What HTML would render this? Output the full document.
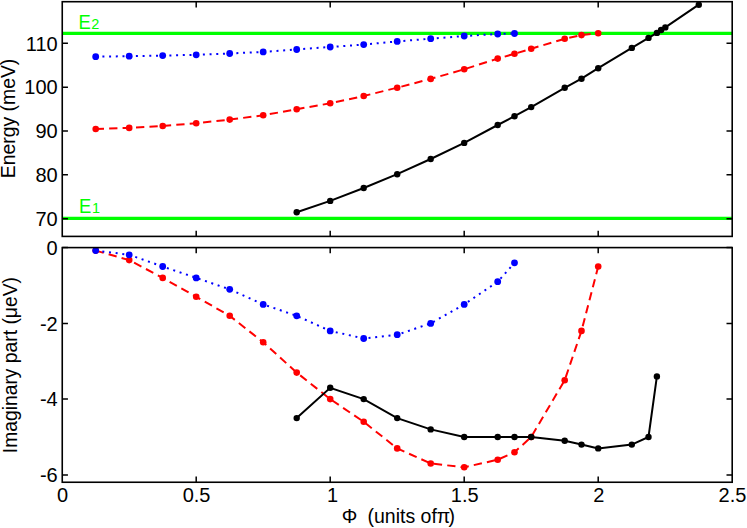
<!DOCTYPE html>
<html><head><meta charset="utf-8"><title>chart</title>
<style>html,body{margin:0;padding:0;background:#fff}svg{display:block}text{font-family:"Liberation Sans",sans-serif;font-size:20px;fill:none;stroke:none}</style></head><body>
<svg width="747" height="528" viewBox="0 0 747 528">
<rect width="747" height="528" fill="#fff"/>
<g>
<line x1="62.25" x2="732.2" y1="33.4" y2="33.4" stroke="#00ff00" stroke-width="3.3"/>
<line x1="62.25" x2="732.2" y1="218.4" y2="218.4" stroke="#00ff00" stroke-width="3.3"/>
<text x="78.43" y="28.8" textLength="12.3" lengthAdjust="spacingAndGlyphs" style="fill:#00ff00;font-size:20.5px">E</text>
<text x="91.24" y="28.8" style="fill:#00ff00;font-size:14.5px">2</text>
<text x="79.04" y="212.8" textLength="12.3" lengthAdjust="spacingAndGlyphs" style="fill:#00ff00;font-size:20.4px">E</text>
<text x="92.0" y="212.8" style="fill:#00ff00;font-size:14.5px">1</text>
<polyline points="95.7,129.0 129.2,127.9 162.7,126.0 196.2,123.2 229.7,119.6 263.2,115.3 296.7,109.2 330.2,103.3 363.7,96.0 397.2,87.7 430.7,78.9 464.2,69.3 497.7,58.6 514.5,53.8 531.2,48.7 564.7,38.8 581.5,35.1 598.2,33.2" fill="none" stroke="#ff0000" stroke-width="2" stroke-dasharray="8.3 5.15"/>
<circle cx="95.7" cy="129.0" r="3.3" fill="#ff0000"/>
<circle cx="129.2" cy="127.9" r="3.3" fill="#ff0000"/>
<circle cx="162.7" cy="126.0" r="3.3" fill="#ff0000"/>
<circle cx="196.2" cy="123.2" r="3.3" fill="#ff0000"/>
<circle cx="229.7" cy="119.6" r="3.3" fill="#ff0000"/>
<circle cx="263.2" cy="115.3" r="3.3" fill="#ff0000"/>
<circle cx="296.7" cy="109.2" r="3.3" fill="#ff0000"/>
<circle cx="330.2" cy="103.3" r="3.3" fill="#ff0000"/>
<circle cx="363.7" cy="96.0" r="3.3" fill="#ff0000"/>
<circle cx="397.2" cy="87.7" r="3.3" fill="#ff0000"/>
<circle cx="430.7" cy="78.9" r="3.3" fill="#ff0000"/>
<circle cx="464.2" cy="69.3" r="3.3" fill="#ff0000"/>
<circle cx="497.7" cy="58.6" r="3.3" fill="#ff0000"/>
<circle cx="514.5" cy="53.8" r="3.3" fill="#ff0000"/>
<circle cx="531.2" cy="48.7" r="3.3" fill="#ff0000"/>
<circle cx="564.7" cy="38.8" r="3.3" fill="#ff0000"/>
<circle cx="581.5" cy="35.1" r="3.3" fill="#ff0000"/>
<circle cx="598.2" cy="33.2" r="3.3" fill="#ff0000"/>
<polyline points="95.7,56.7 129.2,56.2 162.7,55.6 196.2,54.8 229.7,53.5 263.2,51.9 296.7,49.5 330.2,47.0 363.7,44.6 397.2,41.4 430.7,38.7 464.2,36.0 497.7,34.0 514.5,33.5" fill="none" stroke="#0000ff" stroke-width="2" stroke-dasharray="2 4.7"/>
<circle cx="95.7" cy="56.7" r="3.4" fill="#0000ff"/>
<circle cx="129.2" cy="56.2" r="3.4" fill="#0000ff"/>
<circle cx="162.7" cy="55.6" r="3.4" fill="#0000ff"/>
<circle cx="196.2" cy="54.8" r="3.4" fill="#0000ff"/>
<circle cx="229.7" cy="53.5" r="3.4" fill="#0000ff"/>
<circle cx="263.2" cy="51.9" r="3.4" fill="#0000ff"/>
<circle cx="296.7" cy="49.5" r="3.4" fill="#0000ff"/>
<circle cx="330.2" cy="47.0" r="3.4" fill="#0000ff"/>
<circle cx="363.7" cy="44.6" r="3.4" fill="#0000ff"/>
<circle cx="397.2" cy="41.4" r="3.4" fill="#0000ff"/>
<circle cx="430.7" cy="38.7" r="3.4" fill="#0000ff"/>
<circle cx="464.2" cy="36.0" r="3.4" fill="#0000ff"/>
<circle cx="497.7" cy="34.0" r="3.4" fill="#0000ff"/>
<circle cx="514.5" cy="33.5" r="3.4" fill="#0000ff"/>
<polyline points="296.7,212.3 330.2,200.9 363.7,188.0 397.2,174.2 430.7,159.0 464.2,142.9 497.7,125.0 514.5,116.2 531.2,107.1 564.7,87.8 581.5,78.7 598.2,68.2 631.8,47.9 648.5,37.9 656.9,32.9 661.1,30.0 665.3,27.4 698.8,4.7" fill="none" stroke="#000" stroke-width="2"/>
<circle cx="296.7" cy="212.3" r="3.2" fill="#000"/>
<circle cx="330.2" cy="200.9" r="3.2" fill="#000"/>
<circle cx="363.7" cy="188.0" r="3.2" fill="#000"/>
<circle cx="397.2" cy="174.2" r="3.2" fill="#000"/>
<circle cx="430.7" cy="159.0" r="3.2" fill="#000"/>
<circle cx="464.2" cy="142.9" r="3.2" fill="#000"/>
<circle cx="497.7" cy="125.0" r="3.2" fill="#000"/>
<circle cx="514.5" cy="116.2" r="3.2" fill="#000"/>
<circle cx="531.2" cy="107.1" r="3.2" fill="#000"/>
<circle cx="564.7" cy="87.8" r="3.2" fill="#000"/>
<circle cx="581.5" cy="78.7" r="3.2" fill="#000"/>
<circle cx="598.2" cy="68.2" r="3.2" fill="#000"/>
<circle cx="631.8" cy="47.9" r="3.2" fill="#000"/>
<circle cx="648.5" cy="37.9" r="3.2" fill="#000"/>
<circle cx="656.9" cy="32.9" r="3.2" fill="#000"/>
<circle cx="661.1" cy="30.0" r="3.2" fill="#000"/>
<circle cx="665.3" cy="27.4" r="3.2" fill="#000"/>
<circle cx="698.8" cy="4.7" r="3.2" fill="#000"/>
<rect x="62.25" y="1.7" width="669.95" height="234.70" fill="none" stroke="#000" stroke-width="1.6"/>
<path d="M196.2 1.7v5.7M196.2 236.4v-5.7M330.2 1.7v5.7M330.2 236.4v-5.7M464.2 1.7v5.7M464.2 236.4v-5.7M598.2 1.7v5.7M598.2 236.4v-5.7M62.25 218.7h5.7M732.2 218.7h-5.7M62.25 174.8h5.7M732.2 174.8h-5.7M62.25 131.0h5.7M732.2 131.0h-5.7M62.25 87.2h5.7M732.2 87.2h-5.7M62.25 43.3h5.7M732.2 43.3h-5.7" stroke="#000" stroke-width="1.5" fill="none"/>
<text x="57.7" y="225.9" text-anchor="end" style="fill:#000;font-size:20px">70</text>
<text x="57.7" y="182.05" text-anchor="end" style="fill:#000;font-size:20px">80</text>
<text x="57.7" y="138.2" text-anchor="end" style="fill:#000;font-size:20px">90</text>
<text x="57.7" y="94.35" text-anchor="end" style="fill:#000;font-size:20px">100</text>
<text x="57.7" y="50.5" text-anchor="end" style="fill:#000;font-size:20px">110</text>
<text transform="translate(15.00,178.30) rotate(-90)" style="fill:#000;font-size:19.4px">Energy (meV)</text>
</g>
<g>
<polyline points="95.7,250.6 129.2,260.1 162.7,277.9 196.2,296.8 229.7,315.8 263.2,342.3 296.7,372.6 330.2,399.1 363.7,421.8 397.2,448.4 430.7,463.5 464.2,467.3 497.7,459.7 514.5,452.2 531.2,437.0 564.7,380.2 581.5,330.9 598.2,266.5" fill="none" stroke="#ff0000" stroke-width="2" stroke-dasharray="8.3 5.15"/>
<circle cx="95.7" cy="250.6" r="3.3" fill="#ff0000"/>
<circle cx="129.2" cy="260.1" r="3.3" fill="#ff0000"/>
<circle cx="162.7" cy="277.9" r="3.3" fill="#ff0000"/>
<circle cx="196.2" cy="296.8" r="3.3" fill="#ff0000"/>
<circle cx="229.7" cy="315.8" r="3.3" fill="#ff0000"/>
<circle cx="263.2" cy="342.3" r="3.3" fill="#ff0000"/>
<circle cx="296.7" cy="372.6" r="3.3" fill="#ff0000"/>
<circle cx="330.2" cy="399.1" r="3.3" fill="#ff0000"/>
<circle cx="363.7" cy="421.8" r="3.3" fill="#ff0000"/>
<circle cx="397.2" cy="448.4" r="3.3" fill="#ff0000"/>
<circle cx="430.7" cy="463.5" r="3.3" fill="#ff0000"/>
<circle cx="464.2" cy="467.3" r="3.3" fill="#ff0000"/>
<circle cx="497.7" cy="459.7" r="3.3" fill="#ff0000"/>
<circle cx="514.5" cy="452.2" r="3.3" fill="#ff0000"/>
<circle cx="531.2" cy="437.0" r="3.3" fill="#ff0000"/>
<circle cx="564.7" cy="380.2" r="3.3" fill="#ff0000"/>
<circle cx="581.5" cy="330.9" r="3.3" fill="#ff0000"/>
<circle cx="598.2" cy="266.5" r="3.3" fill="#ff0000"/>
<polyline points="95.7,250.6 129.2,254.8 162.7,266.5 196.2,277.9 229.7,289.3 263.2,304.4 296.7,315.8 330.2,330.9 363.7,338.5 397.2,334.7 430.7,323.4 464.2,304.4 497.7,281.7 514.5,262.8" fill="none" stroke="#0000ff" stroke-width="2" stroke-dasharray="2 4.7"/>
<circle cx="95.7" cy="250.6" r="3.4" fill="#0000ff"/>
<circle cx="129.2" cy="254.8" r="3.4" fill="#0000ff"/>
<circle cx="162.7" cy="266.5" r="3.4" fill="#0000ff"/>
<circle cx="196.2" cy="277.9" r="3.4" fill="#0000ff"/>
<circle cx="229.7" cy="289.3" r="3.4" fill="#0000ff"/>
<circle cx="263.2" cy="304.4" r="3.4" fill="#0000ff"/>
<circle cx="296.7" cy="315.8" r="3.4" fill="#0000ff"/>
<circle cx="330.2" cy="330.9" r="3.4" fill="#0000ff"/>
<circle cx="363.7" cy="338.5" r="3.4" fill="#0000ff"/>
<circle cx="397.2" cy="334.7" r="3.4" fill="#0000ff"/>
<circle cx="430.7" cy="323.4" r="3.4" fill="#0000ff"/>
<circle cx="464.2" cy="304.4" r="3.4" fill="#0000ff"/>
<circle cx="497.7" cy="281.7" r="3.4" fill="#0000ff"/>
<circle cx="514.5" cy="262.8" r="3.4" fill="#0000ff"/>
<polyline points="296.7,418.1 330.2,387.8 363.7,399.1 397.2,418.1 430.7,429.4 464.2,437.0 497.7,437.0 514.5,437.0 531.2,437.0 564.7,440.8 581.5,444.6 598.2,448.4 631.8,444.6 648.5,437.0 656.9,376.4" fill="none" stroke="#000" stroke-width="2"/>
<circle cx="296.7" cy="418.1" r="3.2" fill="#000"/>
<circle cx="330.2" cy="387.8" r="3.2" fill="#000"/>
<circle cx="363.7" cy="399.1" r="3.2" fill="#000"/>
<circle cx="397.2" cy="418.1" r="3.2" fill="#000"/>
<circle cx="430.7" cy="429.4" r="3.2" fill="#000"/>
<circle cx="464.2" cy="437.0" r="3.2" fill="#000"/>
<circle cx="497.7" cy="437.0" r="3.2" fill="#000"/>
<circle cx="514.5" cy="437.0" r="3.2" fill="#000"/>
<circle cx="531.2" cy="437.0" r="3.2" fill="#000"/>
<circle cx="564.7" cy="440.8" r="3.2" fill="#000"/>
<circle cx="581.5" cy="444.6" r="3.2" fill="#000"/>
<circle cx="598.2" cy="448.4" r="3.2" fill="#000"/>
<circle cx="631.8" cy="444.6" r="3.2" fill="#000"/>
<circle cx="648.5" cy="437.0" r="3.2" fill="#000"/>
<circle cx="656.9" cy="376.4" r="3.2" fill="#000"/>
<rect x="62.25" y="247.6" width="669.95" height="234.65" fill="none" stroke="#000" stroke-width="1.6"/>
<path d="M196.2 247.6v5.7M196.2 482.25v-5.7M330.2 247.6v5.7M330.2 482.25v-5.7M464.2 247.6v5.7M464.2 482.25v-5.7M598.2 247.6v5.7M598.2 482.25v-5.7M62.25 247.6h5.7M732.2 247.6h-5.7M62.25 323.4h5.7M732.2 323.4h-5.7M62.25 399.1h5.7M732.2 399.1h-5.7M62.25 474.9h5.7M732.2 474.9h-5.7" stroke="#000" stroke-width="1.5" fill="none"/>
<text x="57.7" y="254.8" text-anchor="end" style="fill:#000;font-size:20px">0</text>
<text x="57.7" y="330.56" text-anchor="end" style="fill:#000;font-size:20px">-2</text>
<text x="57.7" y="406.32" text-anchor="end" style="fill:#000;font-size:20px">-4</text>
<text x="57.7" y="482.08" text-anchor="end" style="fill:#000;font-size:20px">-6</text>
<text x="56.98" y="502.2" style="fill:#000;font-size:20px">0</text>
<text x="182.64" y="502.2" style="fill:#000;font-size:20px">0.5</text>
<text x="326.93" y="502.2" style="fill:#000;font-size:20px">1</text>
<text x="450.86" y="502.2" style="fill:#000;font-size:20px">1.5</text>
<text x="593.33" y="502.2" style="fill:#000;font-size:20px">2</text>
<text x="718.58" y="502.2" style="fill:#000;font-size:20px">2.5</text>
<text y="522.5" style="fill:#000;font-size:19.5px"><tspan x="341.65">Φ</tspan><tspan x="362.1"> (units of</tspan><tspan x="436.7">π</tspan><tspan x="448.59">)</tspan></text>
<text transform="translate(16.80,453.20) rotate(-90)" style="fill:#000;font-size:19.3px">Imaginary part (μeV)</text>
</g>
</svg>
</body></html>
